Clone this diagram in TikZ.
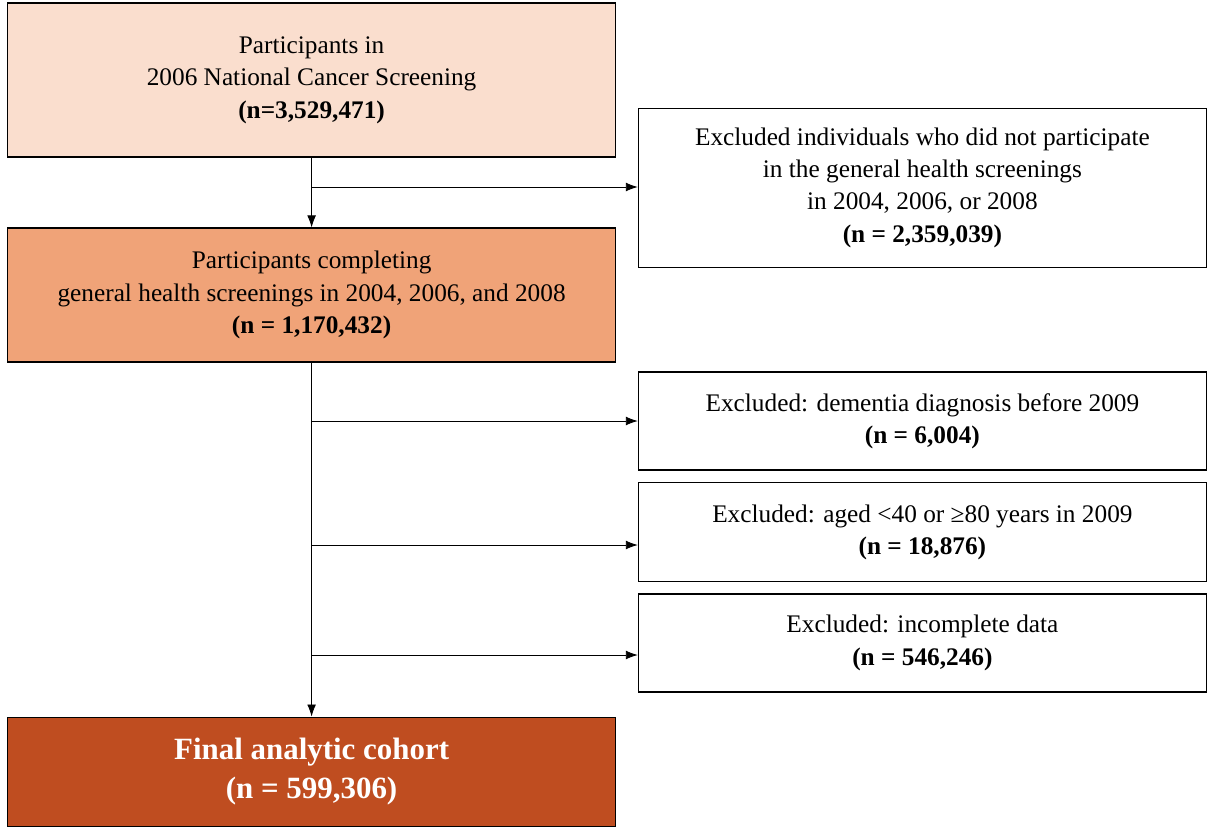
\documentclass[tikz,border=0pt]{standalone}
\usepackage{fontspec}
\setmainfont{Liberation Serif}
\usetikzlibrary{arrows.meta, positioning}
\definecolor{peachlight}{HTML}{FADECE}
\definecolor{peachmid}{HTML}{F0A378}
\definecolor{rustdark}{HTML}{BF4D20}

\begin{document}
\begin{tikzpicture}[
    stage/.style={rectangle, draw, thick, minimum width=15.2cm, align=center, font=\fontsize{18}{23}\selectfont},
    excl/.style={rectangle, draw, thick, fill=white, minimum width=14.2cm, align=center, font=\fontsize{18}{23}\selectfont},
    arrow/.style={-{Latex[length=3mm, width=2.2mm]}, semithick},
    every node/.append style={inner sep=2pt}
]
    \useasboundingbox (0,0) rectangle (30.675,-20.75);

    \node[stage, fill=peachlight, minimum height=3.85cm] (start) at (7.79,-2.0)
        {Participants in\\2006 National Cancer Screening\\\textbf{(n=3,529,471)}};
    \node[stage, fill=peachmid, minimum height=3.35cm] (complete) at (7.79,-7.375)
        {Participants completing\\general health screenings in 2004, 2006, and 2008\\\textbf{(n = 1,170,432)}};
    \node[stage, fill=rustdark, text=white, minimum height=2.725cm, font=\fontsize{22}{28}\selectfont\bfseries] (final) at (7.79,-19.29)
        {Final analytic cohort\\(n = 599,306)};

    \node[excl, minimum height=3.975cm] (nogeneral) at (23.06,-4.69)
        {Excluded individuals who did not participate\\in the general health screenings\\in 2004, 2006, or 2008\\\textbf{(n = 2,359,039)}};
    \node[excl, minimum height=2.45cm] (dementia) at (23.06,-10.525)
        {Excluded: dementia diagnosis before 2009\\\textbf{(n = 6,004)}};
    \node[excl, minimum height=2.475cm] (aged) at (23.06,-13.31)
        {Excluded: aged <40 or ≥80 years in 2009\\\textbf{(n = 18,876)}};
    \node[excl, minimum height=2.45cm] (incomplete) at (23.06,-16.075)
        {Excluded: incomplete data\\\textbf{(n = 546,246)}};

    % branch points on the trunk
    \coordinate (b1) at (7.79,-4.675);
    \coordinate (b2) at (7.79,-10.525);
    \coordinate (b3) at (7.79,-13.625);
    \coordinate (b4) at (7.79,-16.375);

    \draw[arrow] (start) -- (complete);
    \draw[arrow] (complete) -- (final);
    \draw[arrow] (b1) -- (nogeneral.west |- b1);
    \draw[arrow] (b2) -- (dementia.west |- b2);
    \draw[arrow] (b3) -- (aged.west |- b3);
    \draw[arrow] (b4) -- (incomplete.west |- b4);
\end{tikzpicture}
\end{document}
